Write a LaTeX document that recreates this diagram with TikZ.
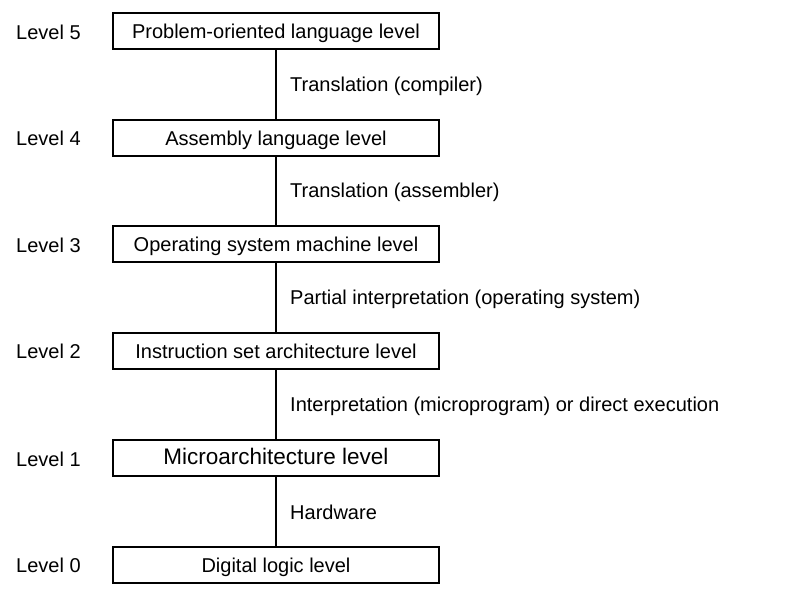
\documentclass[tikz,border=0pt]{standalone}
\usepackage{fontspec}
\setmainfont{Liberation Sans}
\begin{document}
\begin{tikzpicture}[x=1bp,y=-1bp,
  levelbox/.style={draw,line width=2bp,minimum width=326bp,minimum height=36bp,inner sep=0pt,
    text height=14.5bp,text depth=0pt,font=\fontsize{20bp}{24bp}\selectfont},
  levelname/.style={anchor=west,inner sep=0pt,font=\fontsize{20bp}{24bp}\selectfont},
  steplabel/.style={anchor=west,inner sep=0pt,font=\fontsize{20bp}{24bp}\selectfont},
  link/.style={line width=2bp}]
\useasboundingbox (0,0) rectangle (785,593);
% level boxes
\node[levelbox] (b5) at (276,31.5) {Problem-oriented language level};
\node[levelbox] (b4) at (276,138) {Assembly language level};
\node[levelbox] (b3) at (276,244) {Operating system machine level};
\node[levelbox] (b2) at (276,351) {Instruction set architecture level};
\node[levelbox,text height=12bp] (b1) at (276,458) {\fontsize{22.5bp}{26bp}\selectfont Microarchitecture level};
\node[levelbox] (b0) at (276,565) {Digital logic level};
% level numbers
\node[levelname] (n5) at (16,32) {Level 5};
\node[levelname] (n4) at (16,138) {Level 4};
\node[levelname] (n3) at (16,245) {Level 3};
\node[levelname] (n2) at (16,351) {Level 2};
\node[levelname] (n1) at (16,459) {Level 1};
\node[levelname] (n0) at (16,565) {Level 0};
% connections between levels
\draw[link] (b5) -- (b4);
\draw[link] (b4) -- (b3);
\draw[link] (b3) -- (b2);
\draw[link] (b2) -- (b1);
\draw[link] (b1) -- (b0);
% how each level is supported
\node[steplabel] (t54) at (290,86.5) {Translation (compiler)};
\node[steplabel] (t43) at (290,192) {Translation (assembler)};
\node[steplabel] (t32) at (290,299) {Partial interpretation (operating system)};
\node[steplabel] (t21) at (290,406) {Interpretation (microprogram) or direct execution};
\node[steplabel] (t10) at (290,512) {Hardware};
\end{tikzpicture}
\end{document}
